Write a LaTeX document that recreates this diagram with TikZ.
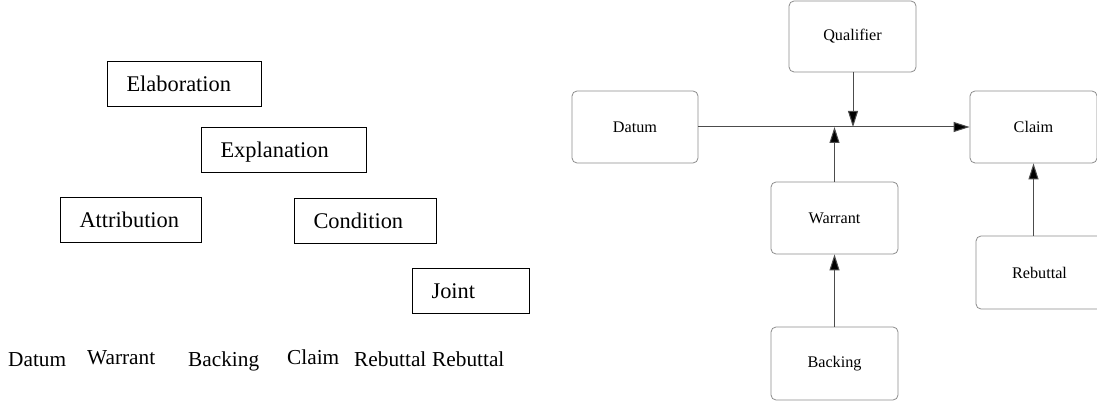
\documentclass[tikz,border=0pt]{standalone}
\usepackage{fontspec}
\setmainfont{Liberation Serif}
\usetikzlibrary{arrows.meta}
\tikzset{
  rstbox/.style={draw=black, line width=1.1pt, anchor=north west, minimum height=45pt,
    inner xsep=19pt, inner ysep=0pt, align=left, text height=15pt, text depth=0pt,
    font=\fontsize{22.4}{26}\selectfont},
  bottomlabel/.style={anchor=base west, inner sep=0pt, font=\fontsize{21.3}{24}\selectfont},
  tbox/.style={draw=black!45, line width=0.8pt, rounded corners=5pt, minimum width=127pt,
    minimum height=72pt, font=\fontsize{16.2}{19}\selectfont},
  tarrow/.style={draw=black!70, line width=1pt, -{Triangle[length=16pt,width=10pt,fill=black]}},
}
\begin{document}
\begin{tikzpicture}[x=1pt,y=-1pt]
\useasboundingbox (0,0) rectangle (1097,406);
\clip (0,0) rectangle (1097,406);
% left: RST relations
\node[rstbox, text width=116pt] (elab) at (107,61) {Elaboration};
\node[rstbox, text width=127pt] (expl) at (201,127) {Explanation};
\node[rstbox, text width=103pt] (attr) at (60,197) {Attribution};
\node[rstbox, text width=104pt] (cond) at (294,198) {Condition};
\node[rstbox, text width=79pt] (joint) at (412,268) {Joint};
% bottom labels
\node[bottomlabel] (l1) at (8,366) {Datum};
\node[bottomlabel] (l2) at (87,364) {Warrant};
\node[bottomlabel] (l3) at (188,366) {Backing};
\node[bottomlabel] (l4) at (287,364) {Claim};
\node[bottomlabel] (l5) at (354,366) {Rebuttal};
\node[bottomlabel] (l6) at (432,366) {Rebuttal};
% right: Toulmin model
\node[tbox, minimum height=71pt] (qual) at (852.5,36.5) {Qualifier};
\node[tbox, minimum width=126pt] (datum) at (635,127) {Datum};
\node[tbox] (claim) at (1033.5,127) {Claim};
\node[tbox] (warrant) at (834.5,218) {Warrant};
\node[tbox, minimum height=73pt] (backing) at (834.5,363.5) {Backing};
\node[tbox, minimum height=73pt] (rebut) at (1039.5,272.5) {Rebuttal};
\coordinate (qmeet) at (853,127);
\coordinate (wmeet) at (834.5,127);
\draw[tarrow] (datum) -- (claim);
\draw[tarrow] (qual.south -| qmeet) -- (qmeet);
\draw[tarrow] (warrant) -- (wmeet);
\draw[tarrow] (backing) -- (warrant);
\draw[tarrow] (rebut.north -| claim.south) -- (claim.south);
\end{tikzpicture}
\end{document}
